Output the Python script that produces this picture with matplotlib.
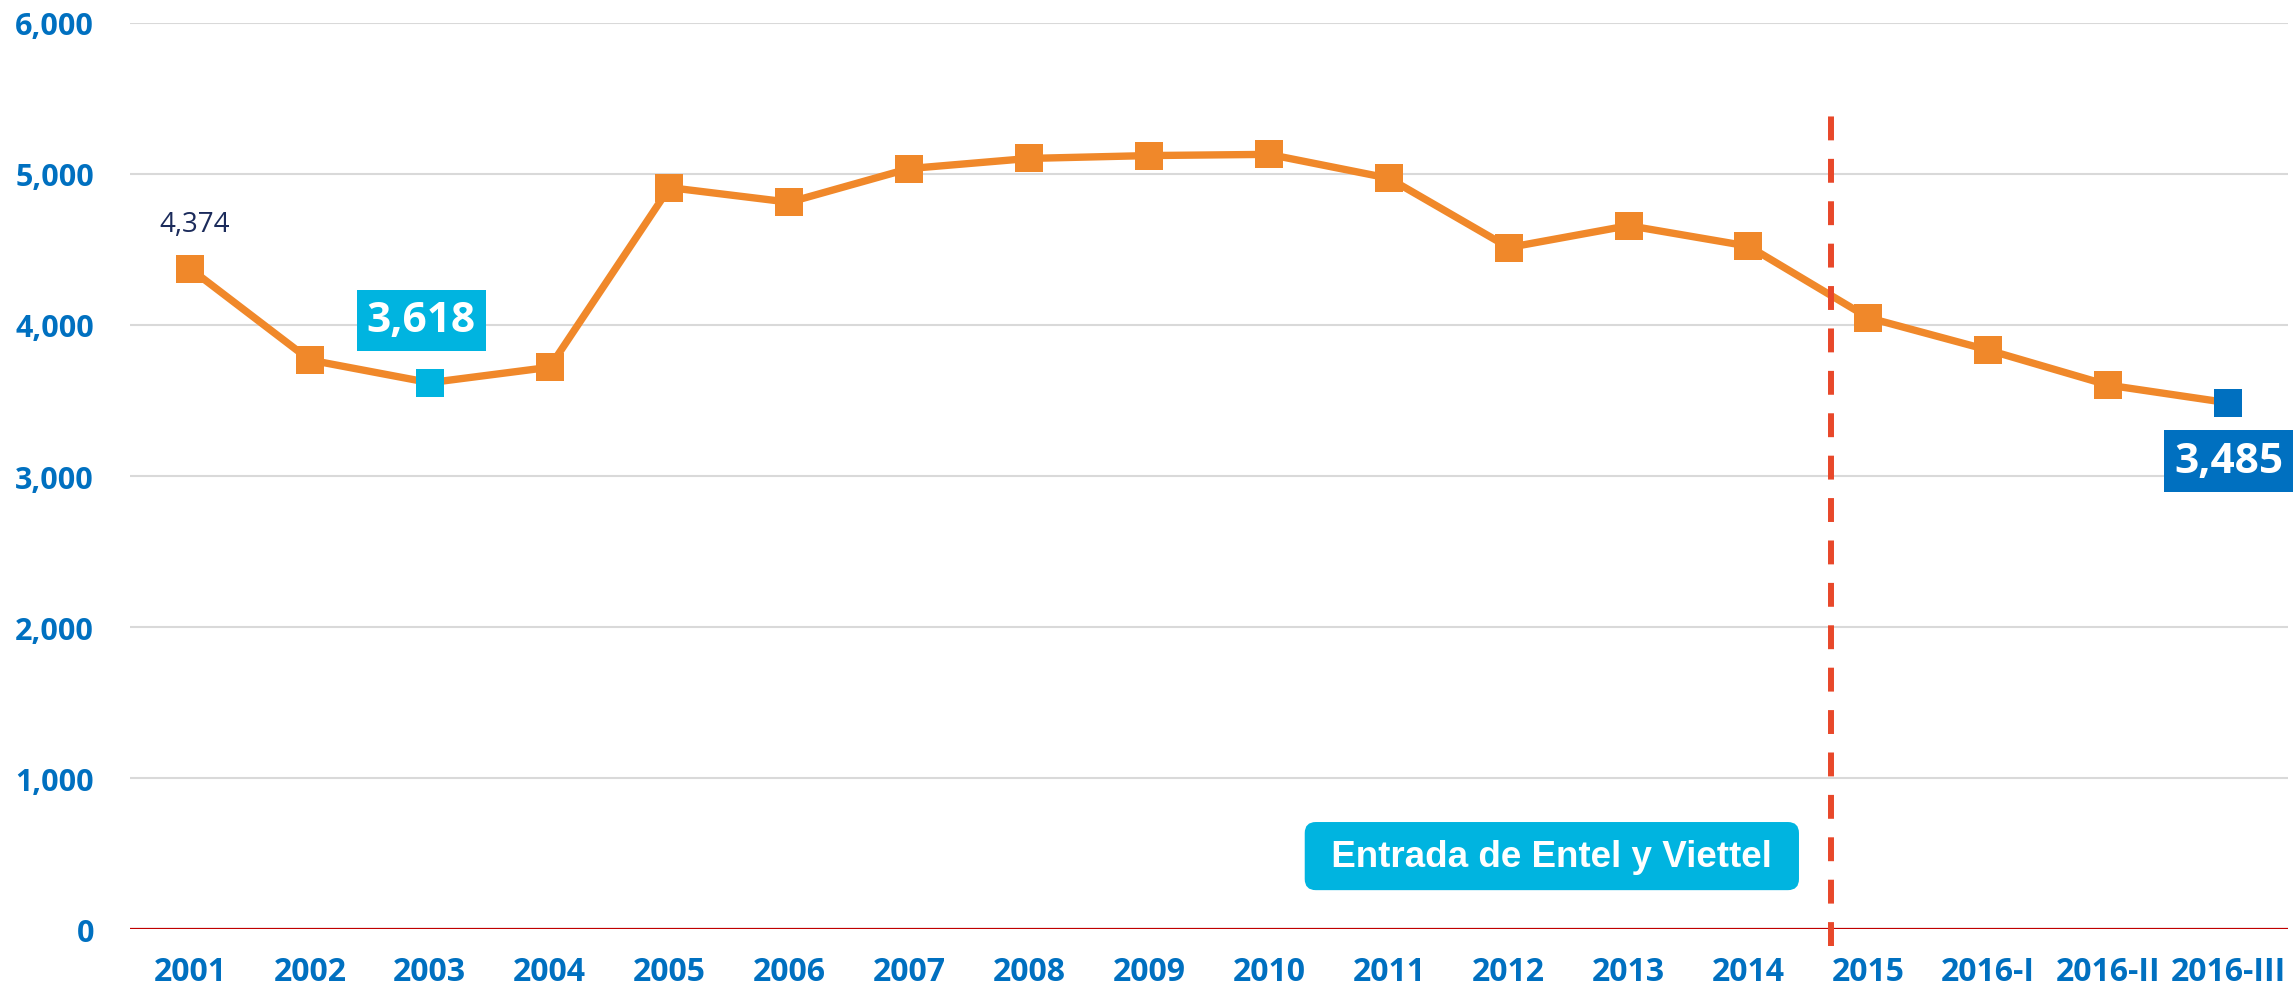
import matplotlib.pyplot as plt
import matplotlib as mpl

mpl.rcParams["font.family"] = ["Open Sans", "DejaVu Sans"]

periods = ["2001", "2002", "2003", "2004", "2005", "2006", "2007", "2008", "2009",
           "2010", "2011", "2012", "2013", "2014", "2015", "2016-I", "2016-II", "2016-III"]
values = [4374, 3768, 3618, 3720, 4910, 4813, 5036, 5103, 5122,
          5130, 4972, 4513, 4658, 4522, 4048, 3834, 3602, 3485]
y_ticks = [0, 1000, 2000, 3000, 4000, 5000, 6000]
entry_x = 13.69  # between 2014 and 2015
entry_text = "Entrada de Entel y Viettel"

orange = "#F0882A"
cyan = "#00B4E0"
blue = "#0070C0"

fig = plt.figure(figsize=(22.93, 9.95), dpi=100)
ax = fig.add_axes([0.0567, 0.0653, 0.9411, 0.9106])
x = list(range(len(periods)))

ax.plot(x, values, color=orange, linewidth=5.3, marker="s", markersize=19.5,
        markeredgewidth=0, zorder=3)
# highlighted points
ax.plot(x[2], values[2], "s", color=cyan, markersize=19.5, markeredgewidth=0, zorder=4)
ax.plot(x[-1], values[-1], "s", color=blue, markersize=19.5, markeredgewidth=0, zorder=4)

ax.set_xlim(-0.5, len(periods) - 0.5)
ax.set_ylim(0, 6000)
ax.set_xticks(x)
ax.set_xticklabels(periods)
ax.set_yticks(y_ticks)
ax.set_yticklabels([f"{v:,}" for v in y_ticks])
ax.tick_params(length=0)
ax.tick_params(axis="y", pad=26, labelsize=22, labelcolor=blue)
ax.tick_params(axis="x", pad=19, labelsize=23, labelcolor=blue)
for lab in ax.get_xticklabels() + ax.get_yticklabels():
    lab.set_fontweight("bold")

for s in ax.spines.values():
    s.set_visible(False)
ax.grid(axis="y", color="#D9D9D9", linewidth=1.5)
ax.grid(axis="x", visible=False)
ax.set_axisbelow(True)
ax.axhline(0, color="#C00000", linewidth=1.6, zorder=2)

# vertical dashed marker
ln = ax.plot([entry_x, entry_x], [-113, 5420], color="#E8482A", linewidth=4.3,
             clip_on=False, zorder=5)[0]
ln.set_dashes((4.0, 3.1))

# labels
ax.annotate(f"{values[0]:,}", (x[0], values[0]), xytext=(3.5, 32),
            textcoords="offset points", ha="center", va="center",
            fontsize=20, color="#1B2B5B")
ax.annotate(f"{values[2]:,}", (x[2], values[2]), xytext=(-6, 45),
            textcoords="offset points", ha="center", va="center",
            fontsize=30.5, fontweight="bold", color="white",
            bbox=dict(boxstyle="square,pad=0.24", fc=cyan, ec="none"))
ax.annotate(f"{values[-1]:,}", (x[-1], values[-1]), xytext=(0.5, -42),
            textcoords="offset points", ha="center", va="center",
            fontsize=30.5, fontweight="bold", color="white",
            bbox=dict(boxstyle="square,pad=0.24", fc=blue, ec="none"))

ax.text(11.36, 483, " " + entry_text + " ", ha="center", va="center",
        fontsize=26.5, fontweight="bold", color="white", family="Liberation Sans",
        bbox=dict(boxstyle="round,pad=0.45,rounding_size=0.3", fc=cyan, ec="none"),
        zorder=6)

fig.savefig("out.png", dpi=100)
